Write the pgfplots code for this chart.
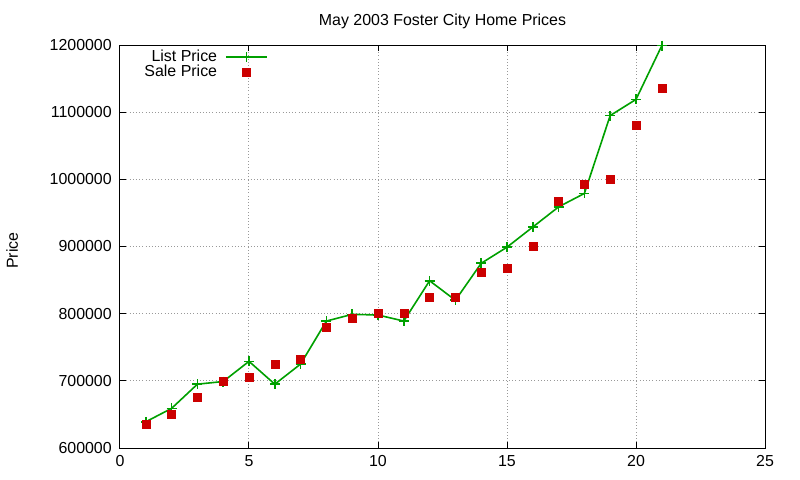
\documentclass[border=0pt]{standalone}
\usepackage{pgfplots}
\pgfplotsset{compat=1.18}
\usepackage{fontspec}
\setmainfont{Liberation Sans}
\definecolor{gpgreen}{RGB}{0,160,0}
\definecolor{gpred}{RGB}{204,0,0}
\begin{document}
\fontsize{12}{14}\selectfont
\begin{tikzpicture}
\begin{axis}[
  at={(0,0)}, anchor=south west,
  scale only axis, width=483.75bp, height=302.25bp,
  xmin=0, xmax=25, ymin=600000, ymax=1200000,
  xtick={0,5,10,15,20,25},
  ytick={600000,700000,800000,900000,1000000,1100000,1200000},
  /pgf/number format/assume math mode=true,
  /pgf/number format/fixed, /pgf/number format/1000 sep={},
  scaled y ticks=false,
  tick align=inside, major tick length=4.5bp,
  tick style={black, line width=0.75bp},
  axis line style={black, line width=0.75bp},
  grid=major,
  major grid style={gray!80, dotted, line width=0.75bp},
  xticklabel style={font=\fontsize{12}{14}\selectfont, inner sep=5.5bp},
  yticklabel style={font=\fontsize{12}{14}\selectfont, inner sep=6bp},
  title={May 2003 Foster City Home Prices},
  title style={at={(axis description cs:0.5,1.062)}, anchor=center, yshift=-6.75bp, font=\fontsize{12}{14}\selectfont},
  ylabel={Price},
  ylabel style={at={(axis description cs:-0.167,0.49)}, anchor=center, font=\fontsize{12}{14}\selectfont},
  legend style={at={(axis description cs:0.232,0.998)}, anchor=north east, draw=none, fill=none,
    font=\fontsize{12}{14}\selectfont, row sep=-3bp, inner sep=1bp,
    legend plot pos=right, cells={anchor=east},
    /tikz/every odd column/.append style={column sep=4bp}},
  legend image code/.code={\draw[mark repeat=2,mark phase=2,#1] plot coordinates {(0bp,0bp) (15.5bp,0bp) (31bp,0bp)};},
]
\addplot[gpgreen, line width=1.2bp, mark=+, mark size=3.75bp, mark options={line width=1.2bp}] coordinates {
(1,639000) (2,659000) (3,695000) (4,699000) (5,729000) (6,695000) (7,725000)
(8,789000) (9,799000) (10,798000) (11,789000) (12,849000) (13,820000) (14,875000)
(15,899000) (16,929000) (17,959000) (18,979000) (19,1095000) (20,1119000) (21,1199000)
};
\addlegendentry{List Price}
\addplot[only marks, mark=square*, mark size=3bp, gpred, mark options={draw=gpred, fill=gpred}] coordinates {
(1,635000) (2,650000) (3,675000) (4,700000) (5,705000) (6,725000) (7,732000)
(8,780000) (9,793000) (10,800000) (11,800000) (12,825000) (13,825000) (14,862000)
(15,867000) (16,900000) (17,968000) (18,993000) (19,1000000) (20,1080000) (21,1135000)
};
\addlegendentry{Sale Price}
\end{axis}
\pgfresetboundingbox
\path[use as bounding box] (-90bp,-24bp) rectangle (510bp,336bp);
\end{tikzpicture}
\end{document}
